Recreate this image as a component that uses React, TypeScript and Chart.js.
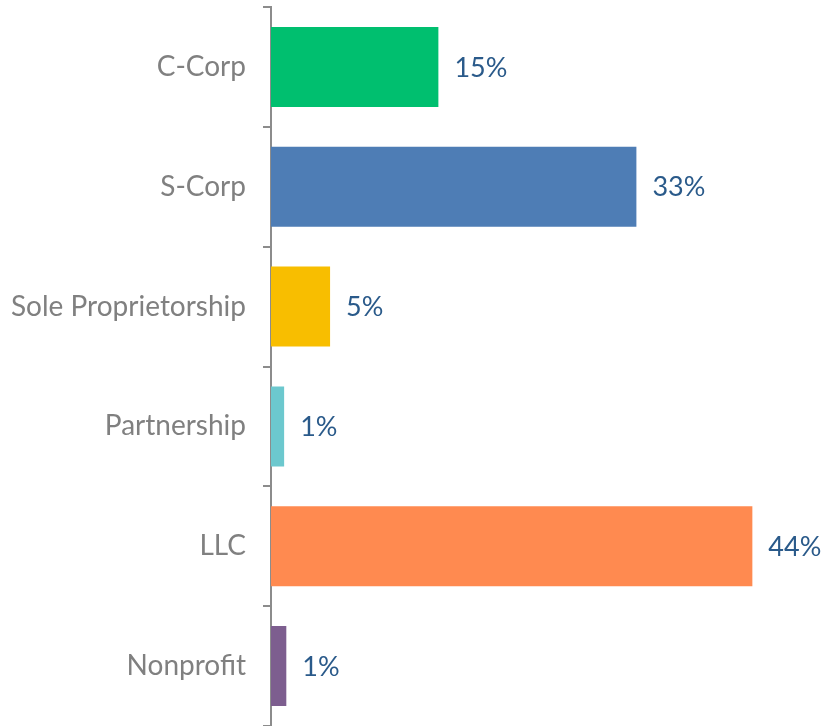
import React, { useEffect, useRef } from "react";
import { Chart, registerables } from "chart.js";

Chart.register(...registerables);

const categories = ["C-Corp", "S-Corp", "Sole Proprietorship", "Partnership", "LLC", "Nonprofit"];
const shares = [15.3, 33.4, 5.4, 1.2, 44.0, 1.4];
const barColors = ["#00BF6F", "#4E7DB5", "#F8BE00", "#6CC8CE", "#FF8A50", "#7D5E8F"];

const FONT = "Lato, 'Open Sans', sans-serif";

const valueLabels = {
  id: "valueLabels",
  afterDatasetsDraw(chart: any) {
    const ctx = chart.ctx;
    const meta = chart.getDatasetMeta(0);
    ctx.save();
    ctx.font = `27px ${FONT}`;
    ctx.fillStyle = "#2A5A8A";
    ctx.textAlign = "left";
    ctx.textBaseline = "middle";
    meta.data.forEach((bar: any, i: number) => {
      const v = chart.data.datasets[0].data[i] as number;
      ctx.fillText(`${Math.round(v)}%`, bar.x + 16, bar.y + 1);
    });
    ctx.restore();
  },
};

export default function App() {
  const ref = useRef<HTMLCanvasElement | null>(null);
  useEffect(() => {
    document.body.style.margin = "0";
    const chart = new Chart(ref.current!, {
      type: "bar",
      data: {
        labels: categories,
        datasets: [
          {
            data: shares,
            backgroundColor: barColors,
            barPercentage: 0.667,
            categoryPercentage: 1,
          },
        ],
      },
      options: {
        indexAxis: "y",
        animation: false,
        responsive: true,
        maintainAspectRatio: false,
        layout: { padding: { top: 7, right: 8, bottom: 0, left: 0 } },
        plugins: { legend: { display: false }, tooltip: { enabled: false } },
        scales: {
          x: { display: false, min: 0, max: 50 },
          y: {
            afterFit: (scale: any) => {
              scale.width = 271;
              scale.paddingTop = 0;
              scale.paddingBottom = 0;
            },
            grid: {
              offset: true,
              drawOnChartArea: false,
              drawTicks: true,
              tickLength: 8,
              color: "#8C8C8C",
              lineWidth: 2,
            },
            border: { color: "#8C8C8C", width: 2 },
            ticks: {
              padding: 17,
              color: "#808080",
              font: { family: FONT, size: 28 },
            },
          },
        },
      },
      plugins: [valueLabels],
    });
    return () => chart.destroy();
  }, []);
  return (
    <div style={{ position: "fixed", left: 0, top: 0, width: 826, height: 726 }}>
      <canvas ref={ref} />
    </div>
  );
}
